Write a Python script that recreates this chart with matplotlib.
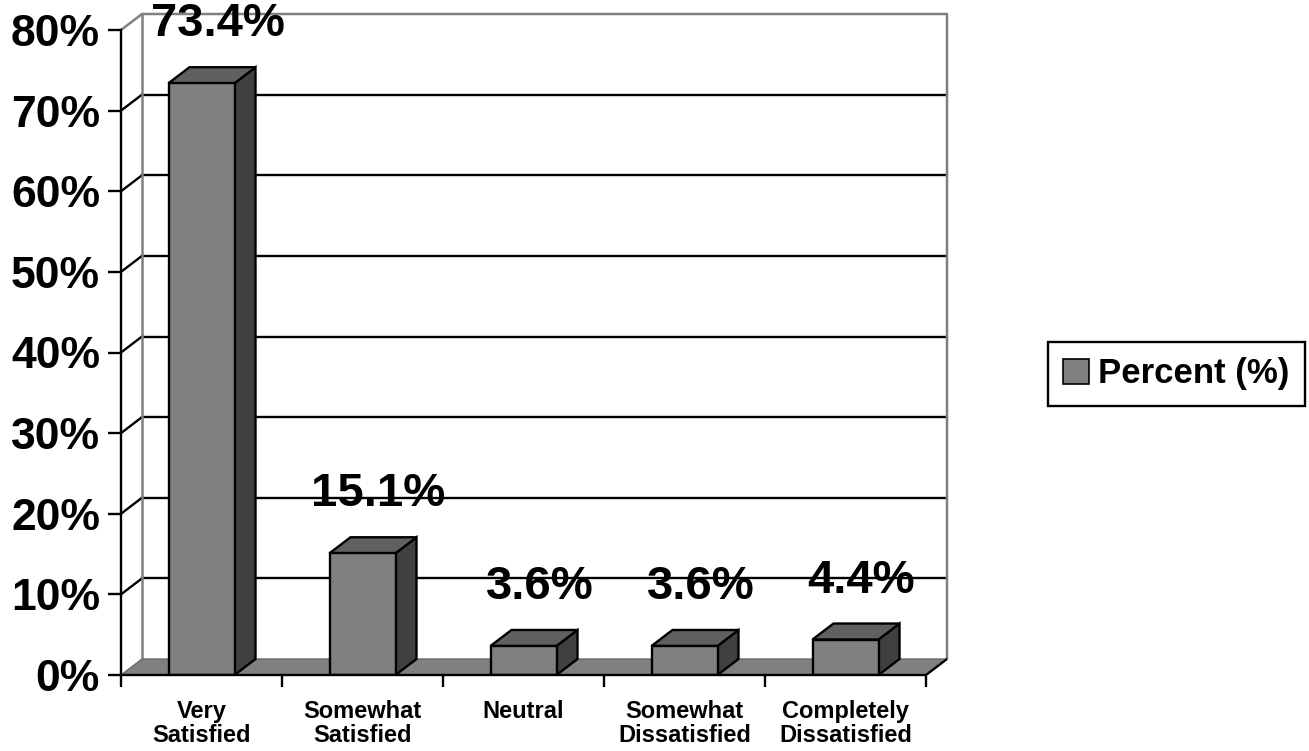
import matplotlib
matplotlib.use("Agg")
import matplotlib.pyplot as plt
from matplotlib.patches import Polygon, Patch
import numpy as np

categories = ["Very\nSatisfied", "Somewhat\nSatisfied", "Neutral",
              "Somewhat\nDissatisfied", "Completely\nDissatisfied"]
percent = [73.4, 15.1, 3.6, 3.6, 4.4]
y_ticks = [0, 10, 20, 30, 40, 50, 60, 70, 80]
series_name = "Percent (%)"

plt.rcParams["font.family"] = ["Liberation Sans", "DejaVu Sans"]
plt.rcParams["font.weight"] = "bold"

W, H = 1309, 751
fig = plt.figure(figsize=(W / 100, H / 100), dpi=100)
# front plane: x 121..926 px, y 675..30 px ; depth shift 21 px right, 16 px up
ax = fig.add_axes([121 / W, (H - 675) / H, (947 - 121) / W, (675 - 14) / H])

n = len(categories)
ymax = y_ticks[-1]
px_x = 805 / n          # pixels per category
px_y = 645 / ymax       # pixels per percent
DX = 21 / px_x
DY = 16 / px_y
ax.set_xlim(0, n + DX)
ax.set_ylim(0, ymax + DY)

GRAY = "#808080"
LW = 1.7

# back wall and left wall
ax.add_patch(Polygon([(DX, DY), (n + DX, DY), (n + DX, ymax + DY), (DX, ymax + DY)],
                     closed=True, fc="white", ec="none", zorder=0))
for t in y_ticks[1:-1]:
    ax.plot([DX, n + DX], [t + DY, t + DY], color="black", lw=LW, zorder=1)
    ax.plot([0, DX], [t, t + DY], color="black", lw=LW, zorder=1)
ax.plot([0, DX, n + DX, n + DX], [ymax, ymax + DY, ymax + DY, DY],
        color=GRAY, lw=1.8, zorder=1, clip_on=False)
ax.plot([DX, DX], [DY, ymax + DY], color=GRAY, lw=1.8, zorder=1)

# floor
ax.add_patch(Polygon([(0, 0), (n, 0), (n + DX, DY), (DX, DY)], closed=True,
                     fc=GRAY, ec="#6a6a6a", lw=1, zorder=1.5))
ax.plot([n, n + DX], [0, DY], color="black", lw=LW, zorder=1.6)

# 3D bars
bw = 66 / px_x
for i, v in enumerate(percent):
    x0 = i + 0.5 - bw / 2
    x1 = i + 0.5 + bw / 2
    front = Polygon([(x0, 0), (x1, 0), (x1, v), (x0, v)], closed=True,
                    fc="#808080", ec="black", lw=LW, zorder=4)
    top = Polygon([(x0, v), (x1, v), (x1 + DX, v + DY), (x0 + DX, v + DY)], closed=True,
                  fc="#606060", ec="black", lw=LW, zorder=4)
    side = Polygon([(x1, 0), (x1 + DX, DY), (x1 + DX, v + DY), (x1, v)], closed=True,
                   fc="#404040", ec="black", lw=LW, zorder=4)
    for p in (side, top, front):
        ax.add_patch(p)
    ax.text(i + 0.5 + 16 / px_x, v + 7.3, f"{v:.1f}%", ha="center", va="center",
            fontsize=34, fontweight="bold", zorder=5)

# axes lines and ticks
for s in ("top", "right"):
    ax.spines[s].set_visible(False)
ax.spines["left"].set_bounds(0, ymax)
ax.spines["bottom"].set_bounds(0, n)
for s in ("left", "bottom"):
    ax.spines[s].set_linewidth(LW)
    ax.spines[s].set_zorder(6)

ax.set_yticks(y_ticks)
ax.set_yticklabels([f"{t}%" for t in y_ticks])
ax.tick_params(axis="y", length=9.4, width=LW, pad=5.8, labelsize=32)

ax.set_xticks(np.arange(n + 1))
ax.set_xticklabels([])
ax.set_xticks(np.arange(n) + 0.5, minor=True)
ax.set_xticklabels(categories, minor=True, fontsize=17, fontweight="bold", linespacing=1.05)
ax.tick_params(axis="x", which="major", length=8.6, width=LW)
ax.tick_params(axis="x", which="minor", length=0, pad=18)

leg = fig.legend(handles=[Patch(fc="#808080", ec="black", lw=1.2, label=series_name)],
                 loc="center right", bbox_to_anchor=(1305 / W, 1 - 374 / H),
                 frameon=True, fancybox=False, edgecolor="black", framealpha=1,
                 prop={"family": "Liberation Sans", "weight": "bold", "size": 25},
                 handlelength=0.75, handleheight=0.75, handletextpad=0.25,
                 borderpad=0.45, borderaxespad=0)
leg.get_frame().set_linewidth(LW)

fig.savefig("out.png", dpi=100)
